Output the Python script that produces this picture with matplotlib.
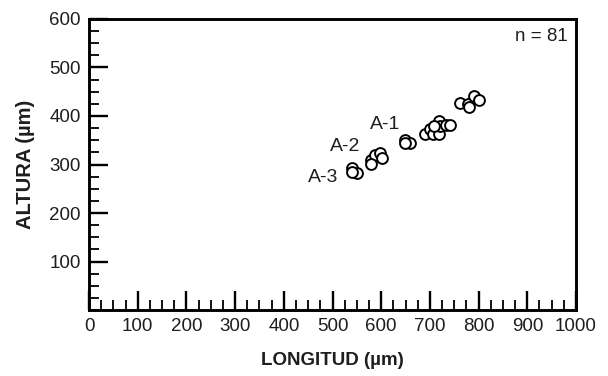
import numpy as np
import matplotlib.pyplot as plt
from matplotlib.ticker import MultipleLocator

plt.rcParams['font.family'] = ['Liberation Sans', 'DejaVu Sans']

# longitud / altura (um)
longitud = [539, 550, 539,
            580, 587, 597, 601, 580,
            649, 659, 649,
            690, 700, 707, 719, 719, 721, 709, 732, 741,
            762, 779, 791, 801, 781]
altura = [292, 282, 285,
          309, 320, 323, 313, 301,
          350, 344, 344,
          362, 373, 362, 362, 390, 379, 379, 381, 381,
          427, 425, 442, 432, 419]

grupos = ['A-1', 'A-2', 'A-3']
grupo_x = [608, 526, 480]
grupo_y = [383, 338, 274]

txt = '#1e1e1e'

fig = plt.figure(figsize=(6.08, 3.76), dpi=100)
ax = fig.add_axes([0.1464, 0.1755, 0.8010, 0.774])

ax.plot(longitud, altura, 'o', ms=7.8, mfc='white', mec='black', mew=1.4)

for g, gx, gy in zip(grupos, grupo_x, grupo_y):
    ax.text(gx, gy, g, fontsize=14, ha='center', va='center', color=txt)

ax.text(0.983, 0.94, 'n = 81', transform=ax.transAxes, fontsize=13.5,
        ha='right', va='center', color=txt)

ax.set_xlim(0, 1000)
ax.set_ylim(0, 600)
ax.xaxis.set_major_locator(MultipleLocator(100))
ax.xaxis.set_minor_locator(MultipleLocator(25))
ax.yaxis.set_minor_locator(MultipleLocator(25))
ax.set_yticks([100, 200, 300, 400, 500, 600])

ax.tick_params(which='both', direction='in', top=False, right=False,
               labelsize=13.5, pad=6, labelcolor=txt)
ax.tick_params(which='major', length=13.5, width=1.7)
ax.tick_params(which='minor', length=7, width=1.3)
for s in ax.spines.values():
    s.set_linewidth(2.1)

ax.set_xlabel('LONGITUD (µm)', fontsize=13.5, fontweight='bold',
              labelpad=12, color=txt)
ax.set_ylabel('ALTURA (µm)', fontsize=14.5, fontweight='bold',
              labelpad=10, color=txt)

fig.savefig('out.png', dpi=100)
